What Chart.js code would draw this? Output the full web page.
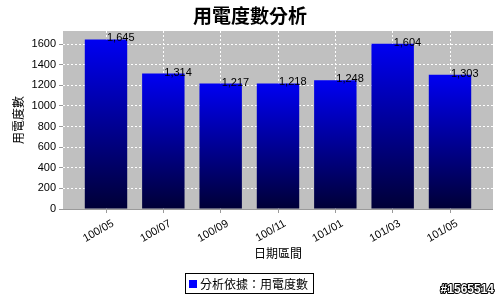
<!DOCTYPE html>
<html>
<head>
<meta charset="utf-8">
<script src="https://cdn.jsdelivr.net/npm/chart.js@4"></script>
<style>
  html, body { margin: 0; padding: 0; background: #ffffff; }
  #wrap { width: 500px; height: 300px; }
</style>
</head>
<body>
<div id="wrap"><canvas id="c" width="500" height="300"></canvas></div>
<script>
// Chart text
const chartTitle = '用電度數分析';
const xAxisTitle = '日期區間';
const yAxisTitle = '用電度數';
const seriesLabel = '分析依據：用電度數';
const stampText = '#1565514';

// Billing periods and electricity usage (kWh)
const periods = ['100/05', '100/07', '100/09', '100/11', '101/01', '101/03', '101/05'];
const usage = [1645, 1314, 1217, 1218, 1248, 1604, 1303];

// Value axis ticks
const yTicks = [0, 200, 400, 600, 800, 1000, 1200, 1400, 1600];

const latin = "'Liberation Sans', Arial, 'Noto Sans CJK TC', sans-serif";
const cjk = "'Noto Sans CJK TC', 'Noto Sans CJK SC', sans-serif";

// Gray plot background and bottom axis line
const plotBackground = {
  id: 'plotBackground',
  beforeDraw(chart) {
    const { ctx, chartArea: a } = chart;
    ctx.save();
    ctx.fillStyle = '#c0c0c0';
    ctx.fillRect(a.left, a.top, a.right - a.left, a.bottom - a.top);
    ctx.restore();
  },
  afterDatasetsDraw(chart) {
    const { ctx, chartArea: a } = chart;
    ctx.save();
    ctx.strokeStyle = '#9a9a9a';
    ctx.lineWidth = 1;
    ctx.beginPath();
    ctx.moveTo(a.left, a.bottom + 0.5);
    ctx.lineTo(a.right, a.bottom + 0.5);
    ctx.stroke();
    ctx.restore();
  }
};

// Value labels above bars
const barValues = {
  id: 'barValues',
  afterDatasetsDraw(chart) {
    const { ctx } = chart;
    const meta = chart.getDatasetMeta(0);
    ctx.save();
    ctx.font = '11px ' + latin;
    ctx.fillStyle = '#000000';
    ctx.textAlign = 'left';
    ctx.textBaseline = 'middle';
    meta.data.forEach((bar, i) => {
      const v = chart.data.datasets[0].data[i].y;
      ctx.fillText(v.toLocaleString('en-US'), bar.x + 1, bar.y - 1);
    });
    ctx.restore();
  }
};

// Titles, legend box and stamp
const decorations = {
  id: 'decorations',
  afterDraw(chart) {
    const { ctx, chartArea: a } = chart;
    ctx.save();
    ctx.fillStyle = '#000000';
    ctx.textAlign = 'center';
    ctx.textBaseline = 'middle';

    ctx.font = 'bold 19px ' + cjk;
    ctx.fillText(chartTitle, 250, 16);

    ctx.font = '12px ' + cjk;
    ctx.fillText(xAxisTitle, (a.left + a.right) / 2, 253);

    ctx.save();
    ctx.translate(18, (a.top + a.bottom) / 2);
    ctx.rotate(-Math.PI / 2);
    ctx.fillText(yAxisTitle, 0, 0);
    ctx.restore();

    // legend
    const label = chart.data.datasets[0].label;
    ctx.font = '12px ' + cjk;
    const tw = ctx.measureText(label).width;
    const bx = 185, by = 273, bh = 20;
    const bw = 14 + tw + 6;
    ctx.fillStyle = '#ffffff';
    ctx.fillRect(bx, by, bw, bh);
    ctx.strokeStyle = '#000000';
    ctx.lineWidth = 1;
    ctx.strokeRect(bx + 0.5, by + 0.5, bw, bh);
    ctx.fillStyle = '#0000ff';
    ctx.fillRect(bx + 4, by + 7, 8, 8);
    ctx.fillStyle = '#000000';
    ctx.textAlign = 'left';
    ctx.fillText(label, bx + 15, by + 11);

    // stamp
    ctx.font = 'bold 12px ' + latin;
    ctx.textAlign = 'right';
    ctx.lineWidth = 2;
    ctx.strokeStyle = '#000000';
    ctx.lineJoin = 'round';
    ctx.strokeText(stampText, 494, 290);
    ctx.fillStyle = '#ffffff';
    ctx.fillText(stampText, 494, 290);
    ctx.restore();
  }
};

function barGradient(context) {
  const chart = context.chart;
  if (!chart.chartArea || !context.raw) return '#0000f0';
  const y = chart.scales.y;
  const top = y.getPixelForValue(context.raw.y);
  const base = y.getPixelForValue(0);
  const g = chart.ctx.createLinearGradient(0, top, 0, base);
  g.addColorStop(0, '#0000f2');
  g.addColorStop(1, '#000036');
  return g;
}

new Chart(document.getElementById('c'), {
  type: 'bar',
  data: {
    datasets: [{
      label: seriesLabel,
      data: usage.map((v, i) => ({ x: i, y: v })),
      backgroundColor: barGradient,
      borderWidth: 0,
      barPercentage: 0.74,
      categoryPercentage: 1
    }]
  },
  options: {
    responsive: false,
    animation: false,
    layout: { padding: { top: 31, right: 7, left: 0, bottom: 0 } },
    plugins: {
      legend: { display: false },
      title: { display: false },
      tooltip: { enabled: false }
    },
    scales: {
      x: {
        type: 'linear',
        offset: false,
        min: -0.75,
        max: periods.length - 0.25,
        afterBuildTicks(scale) {
          scale.ticks = periods.map((_, i) => ({ value: i }));
        },
        afterFit(scale) { scale.height = 91; },
        ticks: {
          autoSkip: false,
          minRotation: 30,
          maxRotation: 30,
          padding: 4,
          labelOffset: 7,
          color: '#000000',
          font: { family: latin, size: 11 },
          callback: (v) => periods[v]
        },
        grid: {
          offset: false,
          color: '#ffffff',
          tickColor: '#9a9a9a',
          tickLength: 4,
          drawTicks: true
        },
        border: { display: false, dash: [2, 2] }
      },
      y: {
        min: 0,
        max: 1727,
        afterBuildTicks(scale) {
          scale.ticks = yTicks.map(v => ({ value: v }));
        },
        afterFit(scale) { scale.width = 63; },
        ticks: {
          padding: 3,
          color: '#000000',
          font: { family: latin, size: 11 },
          callback: (v) => String(v)
        },
        grid: {
          color: '#ffffff',
          tickColor: '#9a9a9a',
          tickLength: 4
        },
        border: { display: false, dash: [2, 2] }
      }
    }
  },
  plugins: [plotBackground, barValues, decorations]
});
</script>
</body>
</html>
